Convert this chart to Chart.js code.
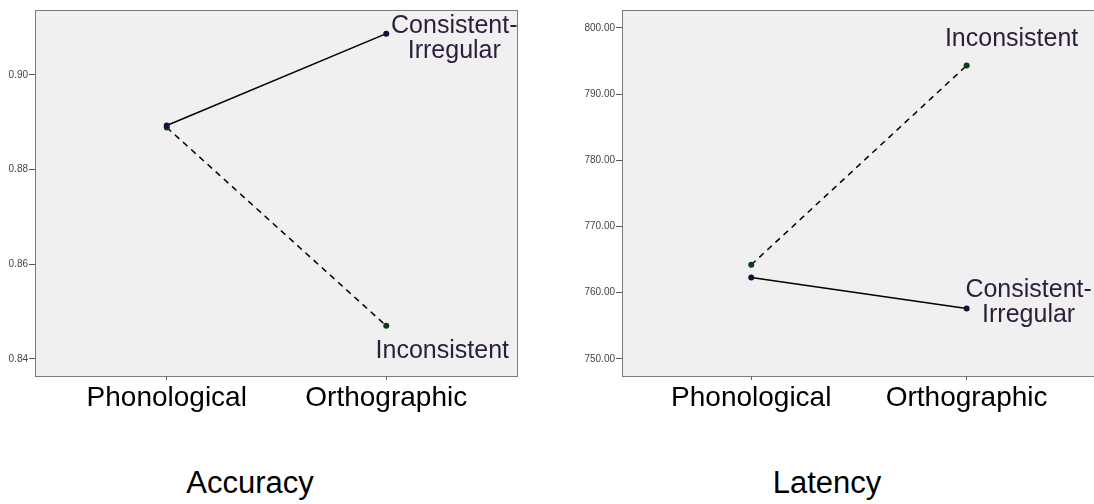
<!DOCTYPE html>
<html>
<head>
<meta charset="utf-8">
<script src="https://cdn.jsdelivr.net/npm/chart.js@4.4.1/dist/chart.umd.min.js"></script>
<style>
  html, body { margin: 0; padding: 0; background: #fff; overflow: hidden; }
  body { width: 1094px; height: 504px; position: relative; }
  .box { position: absolute; top: 0; }
  .title { position: absolute; top: 467px; font-family: Arial, "Liberation Sans", sans-serif;
           font-size: 31px; line-height: 31px; color: #000; transform: translateX(-50%); white-space: nowrap; }
</style>
</head>
<body>
<div class="box" style="left:0px;width:540px;height:440px"><canvas id="accChart" width="540" height="440"></canvas></div>
<div class="box" style="left:560px;width:538px;height:440px"><canvas id="latChart" width="538" height="440"></canvas></div>
<div class="title" style="left:250px">Accuracy</div>
<div class="title" style="left:827px">Latency</div>
<script>
const categories = ['Phonological', 'Orthographic'];
const seriesNames = ['Consistent-Irregular', 'Inconsistent'];

const accuracyConsistent = [0.8893, 0.9087];
const accuracyInconsistent = [0.8889, 0.8470];
const accuracyTicks = [0.84, 0.86, 0.88, 0.90];

const latencyConsistent = [762.3, 757.6];
const latencyInconsistent = [764.2, 794.3];
const latencyTicks = [750, 760, 770, 780, 790, 800];

const FONT = 'Arial, "Liberation Sans", sans-serif';
const labelColor = '#2b1d3b';

// background + frame of the plot box
const frame = {
  id: 'frame',
  beforeDraw: (chart) => {
    const ctx = chart.ctx;
    const {left, top, right, bottom} = chart.chartArea;
    ctx.save();
    ctx.fillStyle = '#f0f0f0';
    ctx.fillRect(left, top, right - left, bottom - top);
    ctx.strokeStyle = '#7a7a7a';
    ctx.lineWidth = 1;
    ctx.strokeRect(left + 0.5, top + 0.5, right - left - 1, bottom - top);
    ctx.restore();
  }
};

// series names written next to the Orthographic end of each line
const endLabels = {
  id: 'endLabels',
  afterDatasetsDraw: (chart, args, opts) => {
    const ctx = chart.ctx;
    ctx.save();
    ctx.font = '25px ' + FONT;
    ctx.fillStyle = labelColor;
    ctx.textAlign = 'center';
    ctx.textBaseline = 'alphabetic';
    opts.spots.forEach((s, i) => {
      const pt = chart.getDatasetMeta(i).data[1];
      s.text.forEach((t, k) => ctx.fillText(t, pt.x + s.dx, pt.y + s.dy + k * 25));
    });
    ctx.restore();
  }
};

function makeDatasets(cons, incons) {
  return [
    {
      label: seriesNames[0],
      data: cons.map((v, i) => ({x: i, y: v})),
      borderColor: '#000',
      borderWidth: 1.5,
      pointRadius: 3,
      pointBackgroundColor: '#12123c',
      pointBorderColor: '#12123c',
      pointBorderWidth: 0
    },
    {
      label: seriesNames[1],
      data: incons.map((v, i) => ({x: i, y: v})),
      borderColor: '#000',
      borderWidth: 1.5,
      borderDash: [6, 5],
      pointRadius: 3,
      pointBackgroundColor: '#0f3c14',
      pointBorderColor: '#0f3c14',
      pointBorderWidth: 0
    }
  ];
}

function makeConfig(cons, incons, ticks, yMin, yMax, xMax, yWidth, padRight, spots) {
  return {
    type: 'line',
    data: { datasets: makeDatasets(cons, incons) },
    options: {
      responsive: false,
      animation: false,
      layout: { autoPadding: false, padding: { top: 10, right: padRight, left: 0, bottom: 0 } },
      plugins: {
        legend: { display: false },
        tooltip: { enabled: false },
        endLabels: { spots: spots }
      },
      scales: {
        x: {
          type: 'linear',
          min: -0.6,
          max: xMax,
          afterBuildTicks: (s) => { s.ticks = categories.map((c, i) => ({value: i})); },
          afterFit: (s) => { s.height = 64; },
          grid: { drawOnChartArea: false, drawTicks: true, tickLength: 4, color: '#666' },
          border: { display: false },
          ticks: {
            callback: (v) => categories[v],
            font: { family: FONT, size: 28 },
            color: '#000',
            padding: 1,
            maxRotation: 0
          }
        },
        y: {
          min: yMin,
          max: yMax,
          afterBuildTicks: (s) => { s.ticks = ticks.map((v) => ({value: v})); },
          afterFit: (s) => { s.width = yWidth; },
          grid: { drawOnChartArea: false, drawTicks: true, tickLength: 6, color: '#555' },
          border: { display: false },
          ticks: {
            callback: (v) => Number(v).toFixed(2),
            font: { family: FONT, size: 10 },
            color: '#444',
            padding: 1
          }
        }
      }
    },
    plugins: [frame, endLabels]
  };
}

new Chart(document.getElementById('accChart').getContext('2d'),
  makeConfig(accuracyConsistent, accuracyInconsistent, accuracyTicks, 0.8364, 0.9137, 1.6, 35, 22, [
    { text: ['Consistent-', 'Irregular'], dx: 68, dy: -1 },
    { text: ['Inconsistent'], dx: 56, dy: 32 }
  ]));

new Chart(document.getElementById('latChart').getContext('2d'),
  makeConfig(latencyConsistent, latencyInconsistent, latencyTicks, 747.4, 802.7, 1.61, 62, 0, [
    { text: ['Consistent-', 'Irregular'], dx: 62, dy: -11 },
    { text: ['Inconsistent'], dx: 45, dy: -20 }
  ]));
</script>
</body>
</html>
